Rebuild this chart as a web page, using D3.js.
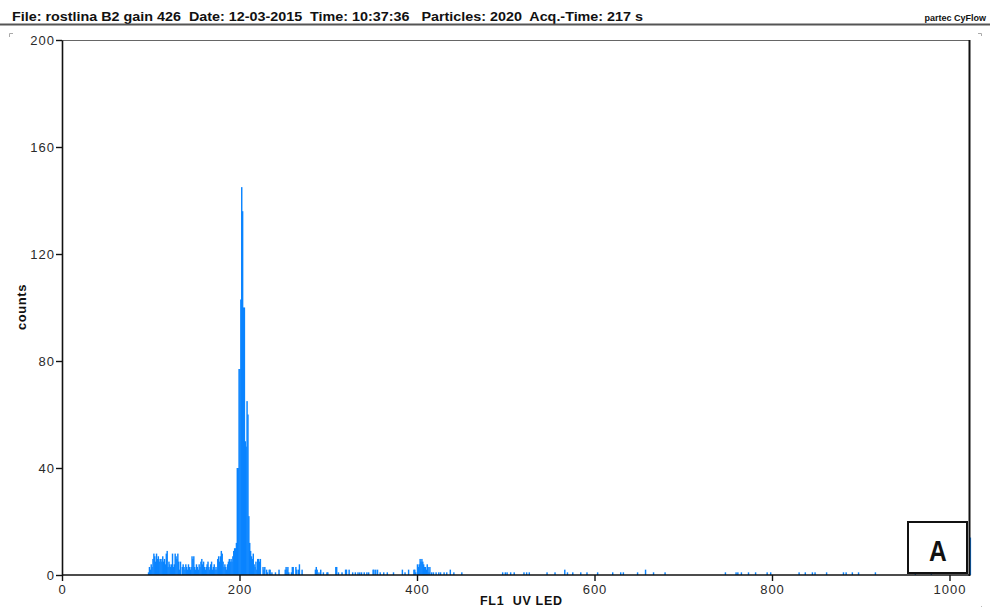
<!DOCTYPE html>
<html>
<head>
<meta charset="utf-8">
<script src="https://cdn.jsdelivr.net/npm/d3@7"></script>
<style>
  html, body { margin: 0; padding: 0; background: #fff; }
  svg { display: block; font-family: "Liberation Sans", Arial, sans-serif; }
  .pre { white-space: pre; }
</style>
</head>
<body>
<svg id="chart" width="990" height="609"></svg>
<script>
// ---- data ----
const headerText = "File: rostlina B2 gain 426  Date: 12-03-2015  Time: 10:37:36   Particles: 2020  Acq.-Time: 217 s";
const brandText = "partec CyFlow";
const xLabel = "FL1  UV LED";
const yLabel = "counts";
const panelLabel = "A";

const xTicks = [0, 200, 400, 600, 800, 1000];
const xMinorTicks = [100, 300, 500, 700, 900];
const yTicks = [0, 40, 80, 120, 160, 200];
const yMinorTicks = [20, 60, 100, 140, 180];

// channels 97..196
const lowStart = 97;
const lowCounts = [1,3,2,4,3,6,8,7,5,8, 6,7,5,6,6,5,7,5,6,4, 8,9,3,5,4,3,4,8,3,4,
  8,7,6,8,5,2,5,0,3,4, 3,2,4,3,2,4,3,2,3,7, 6,7,3,2,4,3,2,4,3,5, 6,4,5,3,2,3,4,5,3,2,
  4,5,2,3,4,2,3,2,6,7, 5,7,9,8,5,3,4,3,2,4, 5,6,5,6,5,7,9,10,10,12];

// channels 197..223
const peakStart = 197;
const peakCounts = [40,40,77,77,103,145,136,100,100,50, 48,65,60,22,12,9,7,6,8,4, 3,5,2,6,6,5,6];

// scattered channels
const scatterChannels = [226,227,228,230,231,233,234,236,240,244,251,252,253,254,255,258,259,260,263,264,
  266,267,270,285,286,287,289,291,294,298,299,308,309,311,315,319,320,323,327,330,
  333,335,337,340,343,345,350,351,353,355,358,362,366,373,383,386,390,396,397,398,
  400,401,402,403,404,405,406,407,408,409,410,411,412,413,414,416,418,421,424,426,
  430,433,437,441,450,496,499,501,505,509,520,523,526,546,555,566,569,575,584,591,
  603,620,629,632,648,657,666,679,747,759,761,765,773,781,794,798,830,837,845,848,
  861,880,883,890,897,916,961,979,1023];
const scatterCounts = [3,2,3,2,1,2,2,1,1,2,2,3,2,3,1,1,3,3,3,2,
  2,4,2,2,3,2,1,2,1,1,1,3,3,1,1,2,2,2,1,1,
  1,1,1,1,1,1,2,2,2,2,1,1,1,1,2,1,2,2,2,1,
  4,3,4,6,5,6,5,4,3,3,2,4,3,1,3,1,1,1,1,1,
  1,1,2,1,1,1,1,1,1,1,1,1,1,1,1,2,1,1,1,1,
  1,1,1,1,1,2,1,1,1,1,1,1,1,1,1,1,1,1,1,1,
  1,1,1,1,1,1,1,1,14];

// ---- assemble histogram ----
const bins = [];
lowCounts.forEach((v, i) => bins.push({ch: lowStart + i, v}));
peakCounts.forEach((v, i) => bins.push({ch: peakStart + i, v}));
scatterChannels.forEach((c, i) => bins.push({ch: c, v: scatterCounts[i]}));

const svg = d3.select("#chart");
const x = d3.scaleLinear().domain([0, 1024]).range([62, 970.8]);
const y = d3.scaleLinear().domain([0, 200]).range([575, 40]);

// header
svg.append("text").attr("class", "pre").attr("x", 12).attr("y", 21)
  .attr("font-size", 13).attr("font-weight", "bold").attr("fill", "#111")
  .attr("textLength", 631).attr("lengthAdjust", "spacingAndGlyphs")
  .text(headerText);
svg.append("text").attr("x", 986).attr("y", 21).attr("text-anchor", "end")
  .attr("font-size", 9).attr("font-weight", "bold").attr("fill", "#111")
  .text(brandText);
svg.append("line").attr("x1", 0).attr("x2", 990).attr("y1", 24.5).attr("y2", 24.5)
  .attr("stroke", "#555").attr("stroke-width", 2);

// corner marks
svg.append("path").attr("d", "M9.5,37 L9.5,33.5 L13,33.5").attr("fill", "none").attr("stroke", "#aaa");
svg.append("path").attr("d", "M978,33.5 L981.5,33.5 L981.5,36").attr("fill", "none").attr("stroke", "#aaa");
svg.append("rect").attr("x", 981).attr("y", 606).attr("width", 1).attr("height", 1).attr("fill", "#bbb");

// frame top
svg.append("line").attr("x1", x(0)).attr("x2", 970).attr("y1", 40.5).attr("y2", 40.5)
  .attr("stroke", "#666").attr("stroke-width", 1);

// bars
svg.append("g").selectAll("rect").data(bins).join("rect")
  .attr("x", d => x(d.ch) - 0.25)
  .attr("width", d => x(d.ch + 1) - x(d.ch) + 0.55)
  .attr("y", d => y(d.v))
  .attr("height", d => y(0) - y(d.v))
  .attr("fill", "#0a84ff");

// frame right
svg.append("line").attr("x1", 969.5).attr("x2", 969.5).attr("y1", 40).attr("y2", 576)
  .attr("stroke", "#111").attr("stroke-width", 2);

// y axis
const gy = svg.append("g").attr("transform", `translate(${x(0)},0)`);
gy.call(d3.axisLeft(y).tickValues(yMinorTicks).tickSize(3).tickFormat("").tickSizeOuter(0));
gy.call(d3.axisLeft(y).tickValues(yTicks).tickSize(6).tickPadding(2).tickSizeOuter(0).tickFormat(d3.format("d")));
// x axis
const gx = svg.append("g").attr("transform", `translate(0,${y(0)})`);
gx.call(d3.axisBottom(x).tickValues(xMinorTicks).tickSize(3).tickFormat("").tickSizeOuter(0));
gx.call(d3.axisBottom(x).tickValues(xTicks).tickSize(6).tickPadding(2).tickSizeOuter(0).tickFormat(d3.format("d")));
gx.select(".domain").attr("d", `M${x(0)},0H970`);

[gy, gx].forEach(g => {
  g.selectAll(".domain").attr("stroke", "#111").attr("stroke-width", 1.6);
  g.selectAll(".tick line").attr("stroke", "#111").attr("stroke-width", 1.4);
  g.selectAll(".tick text").attr("font-size", 13).attr("fill", "#2a2a2a")
    .attr("font-family", "Liberation Sans, Arial, sans-serif").attr("letter-spacing", "1px");
});
gx.selectAll(".tick text").attr("y", 19).attr("dy", 0);
gy.selectAll(".tick text").attr("x", -7);

// axis labels
svg.append("text").attr("class", "pre").attr("x", 480).attr("y", 605)
  .attr("font-size", 12.5).attr("font-weight", "bold").attr("fill", "#111")
  .attr("textLength", 82).attr("lengthAdjust", "spacing")
  .text(xLabel);
svg.append("text").attr("transform", "translate(26,307) rotate(-90)")
  .attr("text-anchor", "middle")
  .attr("font-size", 13).attr("font-weight", "bold").attr("fill", "#111")
  .attr("letter-spacing", "0.6px")
  .text(yLabel);

// panel label box
svg.append("rect").attr("x", 908).attr("y", 522).attr("width", 59).attr("height", 51)
  .attr("fill", "#fff").attr("stroke", "#111").attr("stroke-width", 2);
svg.append("text").attr("transform", "translate(938,561) scale(0.82,1)")
  .attr("text-anchor", "middle")
  .attr("font-size", 30).attr("font-weight", "bold").attr("fill", "#111")
  .text(panelLabel);
</script>
</body>
</html>
